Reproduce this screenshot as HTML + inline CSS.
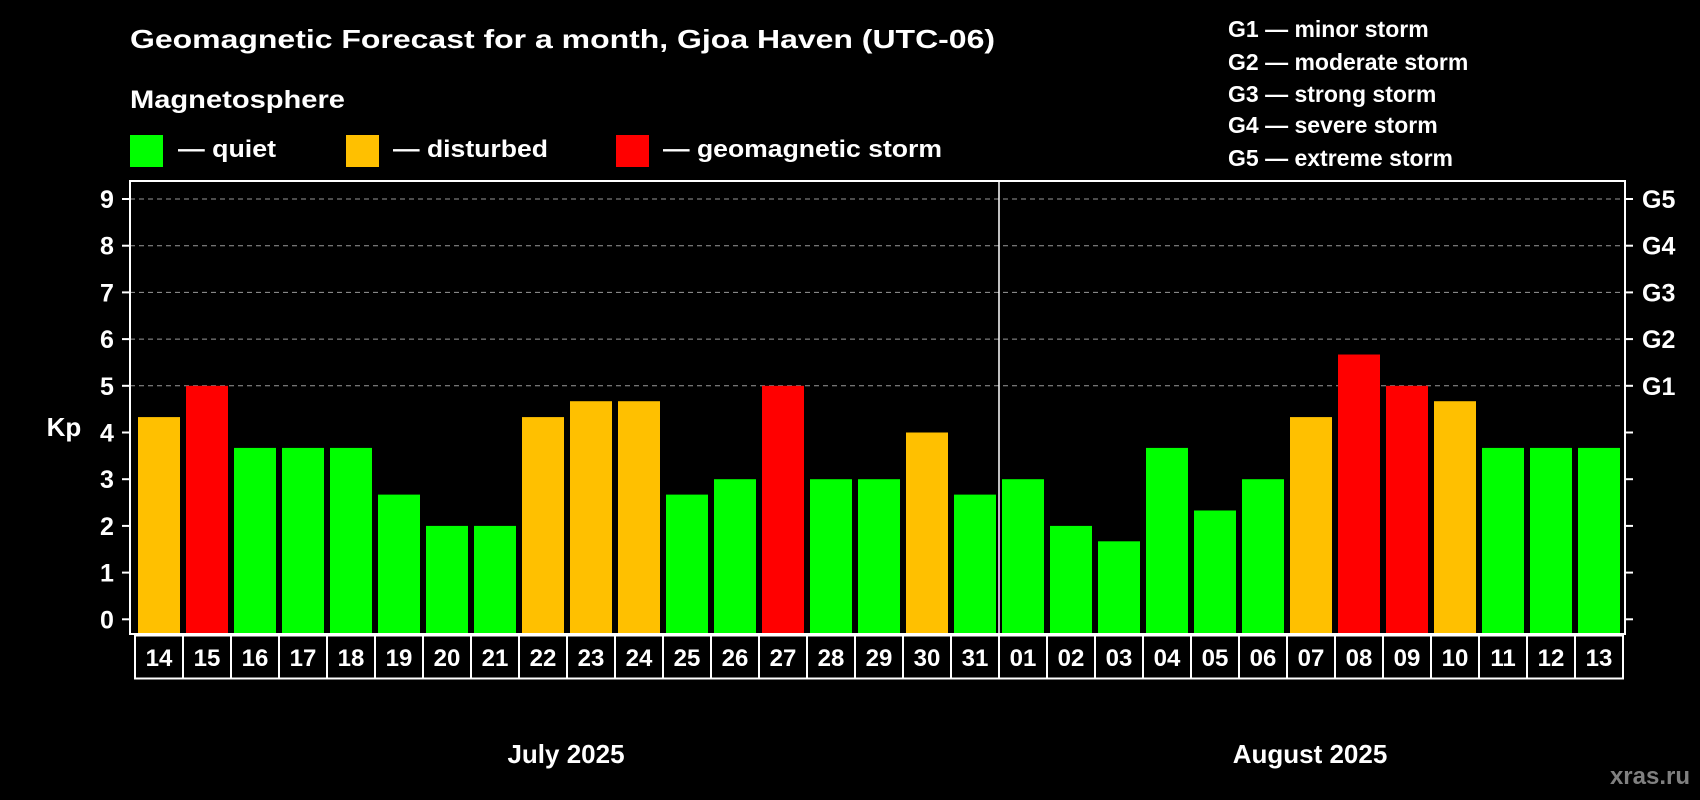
<!DOCTYPE html>
<html><head><meta charset="utf-8"><style>
body{margin:0;background:#000;}
svg{display:block;font-family:"Liberation Sans",sans-serif;font-weight:bold;}
</style></head><body>
<svg id="chart" width="1700" height="800" viewBox="0 0 1700 800">
<rect width="1700" height="800" fill="#000"/>
<text x="130" y="48" fill="#fff" font-size="26" textLength="865" lengthAdjust="spacingAndGlyphs">Geomagnetic Forecast for a month, Gjoa Haven (UTC-06)</text>
<text x="130" y="108" fill="#fff" font-size="25" textLength="215" lengthAdjust="spacingAndGlyphs">Magnetosphere</text>
<g><rect x="130" y="135" width="33" height="32" fill="#00ff00"/><text x="178" y="157" fill="#fff" font-size="24" textLength="98" lengthAdjust="spacingAndGlyphs">— quiet</text></g>
<g><rect x="346" y="135" width="33" height="32" fill="#ffc000"/><text x="393" y="157" fill="#fff" font-size="24" textLength="155" lengthAdjust="spacingAndGlyphs">— disturbed</text></g>
<g><rect x="616" y="135" width="33" height="32" fill="#ff0000"/><text x="663" y="157" fill="#fff" font-size="24" textLength="279" lengthAdjust="spacingAndGlyphs">— geomagnetic storm</text></g>
<g fill="#fff" font-size="23">
<text x="1228" y="37">G1 — minor storm</text>
<text x="1228" y="70">G2 — moderate storm</text>
<text x="1228" y="102">G3 — strong storm</text>
<text x="1228" y="133">G4 — severe storm</text>
<text x="1228" y="166">G5 — extreme storm</text>
</g>
<g id="plot"></g>
<text x="64" y="436" fill="#fff" font-size="26" text-anchor="middle">Kp</text>
<text x="566" y="763" fill="#fff" font-size="26" text-anchor="middle">July 2025</text>
<text x="1310" y="763" fill="#fff" font-size="26" text-anchor="middle">August 2025</text>
<text x="1690" y="784" fill="#808080" font-size="24" text-anchor="end">xras.ru</text>
</svg>
<script>
const days=["14","15","16","17","18","19","20","21","22","23","24","25","26","27","28","29","30","31","01","02","03","04","05","06","07","08","09","10","11","12","13"];
const kp=[4.33,5,3.67,3.67,3.67,2.67,2,2,4.33,4.67,4.67,2.67,3,5,3,3,4,2.67,3,2,1.67,3.67,2.33,3,4.33,5.67,5,4.67,3.67,3.67,3.67];
const yTicks=[0,1,2,3,4,5,6,7,8,9];
const gLabels=["G1","G2","G3","G4","G5"];
(function(){
const NS="http://www.w3.org/2000/svg";
const g=document.getElementById('plot');
const x0=135,pitch=48,barW=42,pL=130,pR=1625,pT=181,pB=634;
const yS=v=>619.3-v*46.7;
const xb=i=>x0+i*pitch;
function mk(t,a){const e=document.createElementNS(NS,t);for(const k in a)e.setAttribute(k,a[k]);g.appendChild(e);return e;}
function color(v){return v>=5?"#ff0000":v>=4?"#ffc000":"#00ff00";}
yTicks.forEach(t=>{
  if(t>=5){const l=mk('line',{x1:pL,x2:pR,y1:yS(t),y2:yS(t),stroke:"#999","stroke-dasharray":"5,4","stroke-width":1});
  
  }
  const tl=mk('line',{x1:pL-8,x2:pL,y1:yS(t),y2:yS(t),stroke:"#fff","stroke-width":2});
  
  
  const tr=mk('line',{x1:pR,x2:pR+8,y1:yS(t),y2:yS(t),stroke:"#fff","stroke-width":2});
  
  
  const tx=mk('text',{x:107,y:yS(t)+9,fill:"#fff","font-size":25,"text-anchor":"middle"});
  tx.textContent=t;
  
  
});
gLabels.forEach((s,i)=>{
  const tx=mk('text',{x:1642,y:yS(5+i)+9,fill:"#fff","font-size":25});
  tx.textContent=s;
  
  
});
kp.forEach((v,i)=>{
  const r=mk('rect',{x:xb(i)+3,y:yS(v),width:barW,height:pB-yS(v)-1,fill:color(v)});
  
  
  const b=mk('rect',{x:xb(i),y:635.5,width:pitch,height:43,fill:"none",stroke:"#fff","stroke-width":2});
  
  
  const tx=mk('text',{x:xb(i)+pitch/2,y:666,fill:"#fff","font-size":24,"text-anchor":"middle"});
  tx.textContent=days[i];
  
  
});
const sep=mk('line',{x1:xb(18),x2:xb(18),y1:pT,y2:pB,stroke:"#fff","stroke-width":1.5});


const fr=mk('rect',{x:pL,y:pT,width:pR-pL,height:pB-pT,fill:"none",stroke:"#fff","stroke-width":2});


})();
</script>
</body></html>
